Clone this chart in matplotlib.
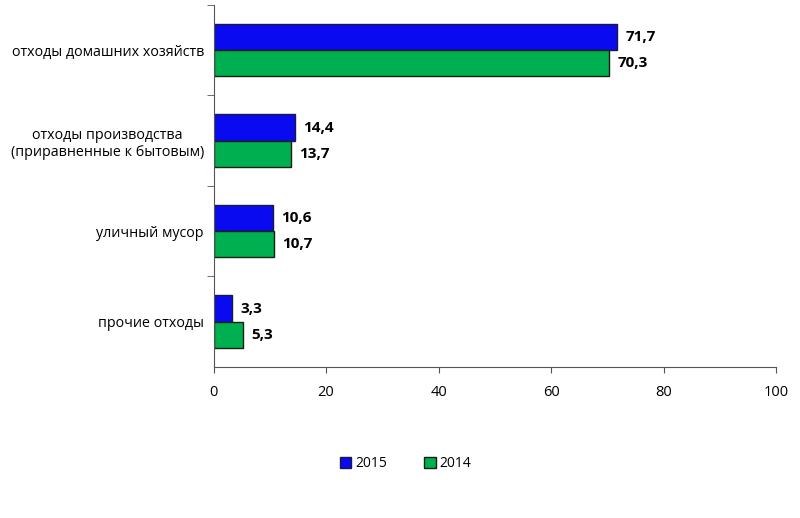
import matplotlib
matplotlib.use("Agg")
import matplotlib.pyplot as plt
import numpy as np

categories = ["отходы домашних хозяйств",
              "отходы производства\n(приравненные к бытовым)",
              "уличный мусор",
              "прочие отходы"]
values_2015 = [71.7, 14.4, 10.6, 3.3]
values_2014 = [70.3, 13.7, 10.7, 5.3]
labels_2015 = ["71,7", "14,4", "10,6", "3,3"]
labels_2014 = ["70,3", "13,7", "10,7", "5,3"]

plt.rcParams["font.family"] = ["Open Sans", "DejaVu Sans"]

fig = plt.figure(figsize=(8, 5.18), dpi=100)
ax = fig.add_axes([0.267, 0.2915, 0.703, 0.699])

y = np.arange(len(categories))
h = 0.29
blue = "#0A0AF0"
green = "#00B050"
b1 = ax.barh(y - h / 2, values_2015, height=h, color=blue, edgecolor="#1a1a40", linewidth=1, label="2015")
b2 = ax.barh(y + h / 2, values_2014, height=h, color=green, edgecolor="#102010", linewidth=1, label="2014")

for bars, labs in [(b1, labels_2015), (b2, labels_2014)]:
    for bar, lab in zip(bars, labs):
        ax.annotate(lab, (bar.get_width(), bar.get_y() + bar.get_height() / 2),
                    xytext=(6, 0), textcoords="offset points", va="center", ha="left",
                    fontsize=11, fontweight="bold")

ax.set_xlim(0, 100)
ax.set_ylim(len(categories) - 0.5, -0.5)
ax.set_xticks([0, 20, 40, 60, 80, 100])
ax.tick_params(axis="x", labelsize=10.5, length=4, color="#555555", pad=9)
ax.set_yticks(y)
ax.set_yticklabels(categories, fontsize=10.3, ha="right", multialignment="center")
ax.tick_params(axis="y", which="major", length=0, pad=7)
ax.set_yticks(np.arange(len(categories)) - 0.5, minor=True)
ax.tick_params(axis="y", which="minor", length=5, color="#555555")

for s in ["top", "right"]:
    ax.spines[s].set_visible(False)
ax.spines["left"].set_color("#555555")
ax.spines["bottom"].set_color("#555555")

fig.legend(handles=[b1, b2], loc="center", bbox_to_anchor=(0.507, 0.105), ncol=2,
           frameon=False, fontsize=10, handlelength=0.8, handleheight=0.8,
           columnspacing=2.7, handletextpad=0.3)

fig.savefig("out.png", dpi=100)
